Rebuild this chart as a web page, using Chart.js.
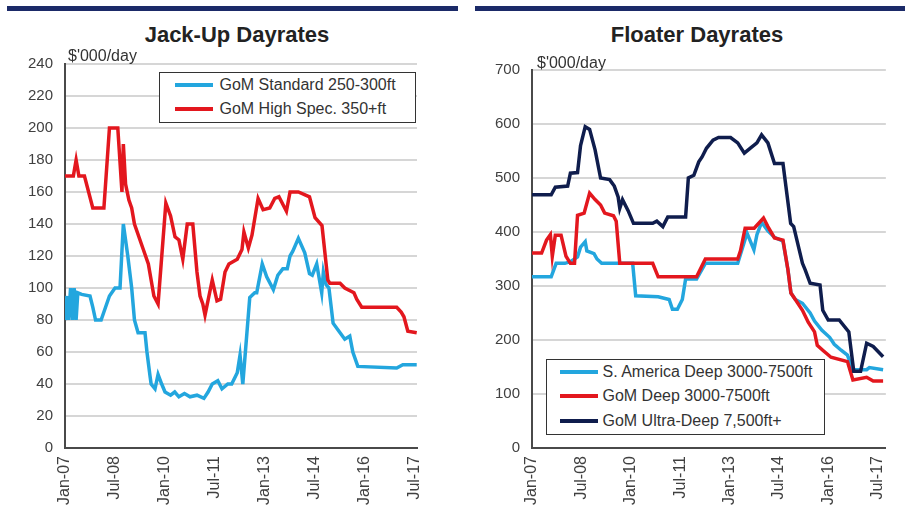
<!DOCTYPE html>
<html>
<head>
<meta charset="utf-8">
<title>Jack-Up and Floater Dayrates</title>
<script src="https://cdn.jsdelivr.net/npm/chart.js@4.4.0/dist/chart.umd.min.js"></script>
<style>
  body {
    margin: 0;
    width: 905px;
    height: 510px;
    background: #fff;
    position: relative;
    overflow: hidden;
    font-family: "Liberation Sans", Arial, sans-serif;
  }
  .rule { position: absolute; top: 6px; height: 5px; background: #1b2a68; }
  .title {
    position: absolute;
    top: 24px;
    font-size: 22px;
    line-height: 22px;
    font-weight: bold;
    color: #222;
    transform: translateX(-50%);
    white-space: nowrap;
  }
  .unit { position: absolute; font-size: 16px; line-height: 16px; color: #333; white-space: nowrap; }
  canvas { position: absolute; top: 0; }
  .legend {
    position: absolute;
    background: #fff;
    border: 1.5px solid #333;
    box-sizing: border-box;
  }
  .legend-row { display: flex; align-items: center; white-space: nowrap; font-size: 16px; color: #333; }
  .legend-line { height: 4px; flex: none; }
</style>
</head>
<body>
  <div class="rule" style="left:7px; width:451px;"></div>
  <div class="rule" style="left:475px; width:430px;"></div>

  <div class="title" style="left:237px;">Jack-Up Dayrates</div>
  <div class="title" style="left:697px;">Floater Dayrates</div>

  <canvas id="jackUpChart" width="455" height="510" style="left:0;"></canvas>
  <canvas id="floaterChart" width="450" height="510" style="left:455px;"></canvas>

  <div class="unit" style="left:68px; top:48px;">$'000/day</div>
  <div class="unit" style="left:537px; top:55px;">$'000/day</div>

  <div id="jackUpLegend" class="legend" style="left:159px; top:72px; width:257px; height:51px;"></div>
  <div id="floaterLegend" class="legend" style="left:546px; top:359px; width:279px; height:76px;"></div>

<script>
// =========================
// Axis ticks (months since Jan-07)
// =========================
const tickMonths = [0, 18, 36, 54, 72, 90, 108, 126];
const tickLabels = ["Jan-07", "Jul-08", "Jan-10", "Jul-11", "Jan-13", "Jul-14", "Jan-16", "Jul-17"];

// =========================
// Jack-Up dayrates [month, $'000/day]
// =========================
const jackUpNames = ["GoM Standard 250-300ft", "GoM High Spec. 350+ft"];
const jackUpColors = ["#23a6de", "#e3171e"];

const gomStandard = [
  [0, 80], [0.7, 95], [1.3, 80], [2, 100], [2.7, 80], [3.3, 100], [4, 80], [4.6, 97],
  [6, 96], [9, 95], [10, 88], [11, 80], [13, 80], [14, 85], [16, 95], [18, 100],
  [19.8, 100], [21, 140], [22.6, 120], [24, 100], [25, 80], [26.3, 72], [28.8, 72],
  [29.5, 60], [30.6, 45], [31, 40], [32.4, 37], [33.5, 46], [34.8, 40], [36, 35],
  [38, 33], [39.5, 35], [41, 32], [43, 34], [45, 32], [47.5, 33], [50, 31], [51.5, 35],
  [53, 40], [55, 42], [56.5, 37], [58.6, 40], [60, 40], [62, 47], [63, 58], [64, 40],
  [66.5, 94], [68.3, 97], [69, 97], [71, 115], [72.6, 107], [75, 99], [76.6, 108],
  [78.4, 112], [80, 112], [81, 120], [82, 123], [84, 131], [86.3, 122], [88, 109],
  [89, 108], [90.6, 115], [92.4, 97], [93, 110], [94, 102], [95, 100], [96.5, 78],
  [99, 72], [100.7, 68], [102.5, 70], [103.6, 60], [105.4, 51], [119.4, 50],
  [121.6, 52], [126.6, 52],
];

const gomHighSpec = [
  [0, 170], [3, 170], [4, 180], [5, 170], [7, 170], [10, 150], [14, 150], [16, 200],
  [19, 200], [20.5, 160], [21, 190], [21.8, 165], [23, 155], [24, 150], [25, 140],
  [28, 125], [30, 115], [32, 95], [33.5, 90], [36.3, 153], [38, 145], [39.6, 132],
  [41, 130], [42.4, 118], [44, 140], [46, 140], [47.5, 110], [48.6, 95], [49.6, 90],
  [50.4, 83], [53, 105], [54.7, 92], [56, 93], [57.6, 110], [59, 115], [62, 118],
  [63.7, 124], [64.4, 135], [66, 125], [67.3, 133], [69.5, 156], [71.3, 149],
  [73.7, 150], [75.5, 156], [77, 157], [79.7, 148], [81, 160], [84, 160], [88, 157],
  [90, 144], [92.5, 139], [94.6, 105], [95.3, 103], [99, 103], [100.7, 100],
  [104, 97], [105, 93], [106.8, 88], [119.4, 88], [121, 85], [122, 82], [123.4, 73],
  [126.6, 72],
];

// =========================
// Floater dayrates [month, $'000/day]
// =========================
const floaterNames = ["S. America Deep 3000-7500ft", "GoM Deep 3000-7500ft", "GoM Ultra-Deep 7,500ft+"];
const floaterColors = ["#23a6de", "#e3171e", "#0f1d4d"];

const saDeep = [
  [0, 317], [7, 317], [8.8, 342], [12, 342], [14, 345], [16.6, 354], [17.7, 372],
  [19.4, 382], [20, 365], [22.6, 360], [23.7, 350], [25.4, 342], [36.7, 342],
  [37.8, 282], [46, 280], [50, 275], [51.2, 257], [53, 257], [54.8, 275], [56, 313],
  [60, 313], [63.2, 342], [75, 342], [78.4, 398], [80.9, 367], [82, 395], [83.7, 418],
  [86, 402], [88.4, 390], [91.5, 383], [93.3, 330], [94.4, 287], [96, 275],
  [98.6, 268], [101.4, 250], [103, 235], [105.7, 218], [108.5, 205], [110.2, 192],
  [112.7, 181], [115, 172], [117, 145], [122, 145], [123, 149], [128, 145],
];

const gomDeep = [
  [0, 361], [3.5, 361], [5.3, 385], [6.7, 395], [7.4, 355], [8.5, 394], [10.6, 394],
  [12.4, 355], [14, 342], [15.5, 342], [16.6, 431], [19, 435], [21, 472], [23, 460],
  [25, 450], [26.5, 435], [29.7, 430], [30.7, 420], [32, 342], [44, 342], [46, 317],
  [60, 317], [63.2, 350], [75, 350], [76, 365], [77.7, 407], [81, 407], [84.4, 426],
  [86, 410], [88.4, 389], [91.5, 385], [93.3, 330], [94.4, 287], [96, 275],
  [98.6, 255], [100.7, 233], [103, 215], [104, 190], [106, 181], [109, 168],
  [115, 160], [117, 126], [122, 131], [124.4, 124], [128, 124],
];

const gomUltraDeep = [
  [0, 469], [7, 469], [8.5, 483], [13, 485], [14, 509], [16.6, 510], [17.7, 560],
  [19.4, 595], [21, 590], [23, 552], [25, 500], [28.3, 497], [30, 485], [31.4, 465],
  [32, 444], [33, 460], [35, 440], [37, 416], [44, 416], [45.5, 420], [47.7, 410],
  [49.5, 428], [56, 428], [57, 500], [59, 505], [60.8, 530], [62, 539], [63.6, 555],
  [66, 570], [68, 575], [72.4, 575], [75, 565], [77.4, 546], [79.5, 555], [82, 565],
  [83.7, 580], [86, 565], [88.4, 527], [91.5, 527], [94.3, 416], [95.4, 410],
  [98.6, 342], [99.6, 330], [101.4, 305], [105, 302], [106, 255], [108, 237],
  [112, 237], [115.5, 215], [117.3, 142], [119.8, 142], [122, 194], [124.4, 188],
  [128, 169],
];

Chart.defaults.font.family = "'Liberation Sans', Arial, sans-serif";
Chart.defaults.color = "#404040";

// =========================
// Shared line chart builder
// =========================
function buildDayrateChart(canvasId, names, colors, seriesList, drawOrder, cfg) {
  const ctx = document.getElementById(canvasId);
  if (!ctx) return null;

  return new Chart(ctx, {
    type: "line",
    data: {
      datasets: seriesList.map((points, i) => ({
        label: names[i],
        data: points.map(([m, v]) => ({ x: m, y: v })),
        borderColor: colors[i],
        borderWidth: 3.5,
        pointRadius: 0,
        tension: 0,
        fill: false,
        order: drawOrder[i],
      })),
    },
    options: {
      responsive: false,
      animation: false,
      layout: { padding: { left: 0, right: cfg.padRight, top: cfg.padTop, bottom: 0 } },
      plugins: {
        legend: { display: false },
        tooltip: { enabled: false },
      },
      scales: {
        x: {
          type: "linear",
          min: 0,
          max: cfg.xMax,
          afterBuildTicks: (scale) => {
            scale.ticks = tickMonths.map((v) => ({ value: v }));
          },
          afterFit: (scale) => {
            scale.height = 62;
          },
          ticks: {
            autoSkip: false,
            minRotation: 90,
            maxRotation: 90,
            padding: 8,
            font: { size: 16 },
            callback: (value, index) => tickLabels[index],
          },
          grid: { color: "rgba(0,0,0,0)", drawTicks: false },
          border: { display: true, color: "#4a4a4a", width: 2 },
        },
        y: {
          min: 0,
          max: cfg.yMax,
          afterFit: (scale) => {
            scale.width = cfg.axisLeft;
          },
          ticks: { stepSize: cfg.yStep, padding: 12, font: { size: 15 } },
          grid: { color: "#d6d6d6", lineWidth: 2, drawTicks: false },
          border: { display: true, color: "#4a4a4a", width: 2 },
        },
      },
    },
  });
}

// =========================
// Boxed legend (HTML)
// =========================
function buildLegend(elId, names, colors, opts) {
  const el = document.getElementById(elId);
  if (!el) return;
  el.innerHTML = "";
  names.forEach((name, i) => {
    el.innerHTML += `
      <div class="legend-row" style="height:${opts.rowHeight}px; padding-left:${opts.inset}px;">
        <span class="legend-line" style="width:38px; background:${colors[i]}; margin-right:${opts.gap}px;"></span>
        <span>${name}</span>
      </div>`;
  });
}

document.addEventListener("DOMContentLoaded", () => {
  buildDayrateChart(
    "jackUpChart",
    jackUpNames,
    jackUpColors,
    [gomStandard, gomHighSpec],
    [1, 0],
    { xMax: 126.7, yMax: 240, yStep: 20, axisLeft: 65, padRight: 38, padTop: 64 }
  );

  buildDayrateChart(
    "floaterChart",
    floaterNames,
    floaterColors,
    [saDeep, gomDeep, gomUltraDeep],
    [2, 1, 0],
    { xMax: 129, yMax: 700, yStep: 100, axisLeft: 77, padRight: 8, padTop: 70 }
  );

  buildLegend("jackUpLegend", jackUpNames, jackUpColors, { rowHeight: 24, inset: 14.5, gap: 7 });
  buildLegend("floaterLegend", floaterNames, floaterColors, { rowHeight: 24.3, inset: 12.5, gap: 5 });
});
</script>
</body>
</html>
